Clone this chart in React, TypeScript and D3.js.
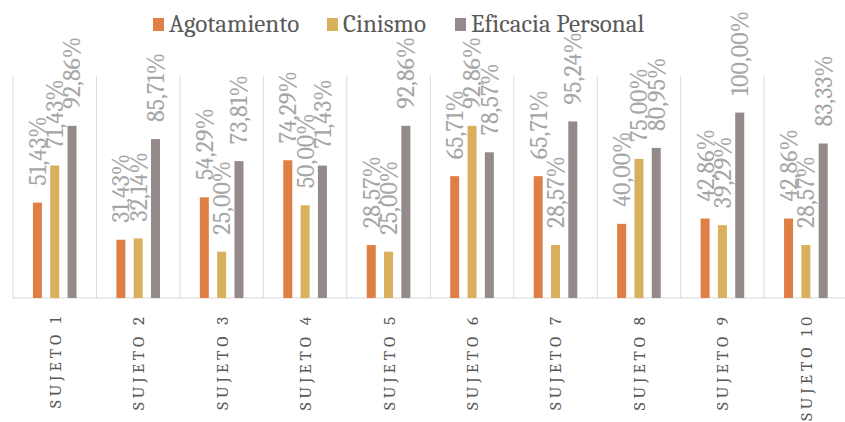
import React from "react";
import * as d3 from "d3";

const categories = ["SUJETO 1","SUJETO 2","SUJETO 3","SUJETO 4","SUJETO 5","SUJETO 6","SUJETO 7","SUJETO 8","SUJETO 9","SUJETO 10"];
const seriesNames = ["Agotamiento","Cinismo","Eficacia Personal"];
const agotamiento = [51.43,31.43,54.29,74.29,28.57,65.71,65.71,40.00,42.86,42.86];
const cinismo = [71.43,32.14,25.00,50.00,25.00,92.86,28.57,75.00,39.29,28.57];
const eficacia = [92.86,85.71,73.81,71.43,92.86,78.57,95.24,80.95,100.00,83.33];
const colors = ["#E07F45","#D9B15C","#948A89"];

const W = 845, H = 422;
const left = 13, right = 847.6, top = 75.5, base = 298;
const FONT = `"Cambria", "Liberation Serif", serif`;

export default function App() {
  const series = [agotamiento, cinismo, eficacia];
  const x0 = d3.scaleBand<string>().domain(categories).range([left, right]).padding(0);
  const x1 = d3.scaleBand<string>().domain(seriesNames).range([0, x0.bandwidth()]).paddingInner(0.48).paddingOuter(1.15);
  const y = d3.scaleLinear().domain([0, 120]).range([base, top]);
  const fmt = (v: number) => v.toFixed(2).replace(".", ",") + "%";
  const boundaries = categories.map((c) => x0(c)!).concat([right]);
  const legendItems = [
    { sq: 153, tx: 169 },
    { sq: 327, tx: 343 },
    { sq: 455, tx: 471 },
  ];
  return (
    <svg width={W} height={H} style={{ position: "absolute", left: 0, top: 0, background: "#fff" }}>
      {boundaries.map((b, i) => (
        <line key={"g" + i} x1={b} x2={b} y1={top} y2={base} stroke="#d9d9d9" strokeWidth={1} />
      ))}
      <line x1={left} x2={right} y1={base} y2={base} stroke="#d9d9d9" strokeWidth={1.2} />
      {series.map((vals, si) =>
        vals.map((v, ci) => {
          const bx = x0(categories[ci])! + x1(seriesNames[si])!;
          return (
            <rect key={si + "-" + ci} x={bx} y={y(v)} width={x1.bandwidth()} height={base - y(v)} fill={colors[si]} />
          );
        })
      )}
      {series.map((vals, si) =>
        vals.map((v, ci) => {
          const cx = x0(categories[ci])! + x1(seriesNames[si])! + x1.bandwidth() / 2;
          const ty = y(v) - 17;
          return (
            <text key={"l" + si + "-" + ci} transform={`translate(${cx},${ty}) rotate(-90)`} dy="0.35em" fontSize={24} fill="#a6a6a6" style={{ fontFamily: FONT }}>
              {fmt(v)}
            </text>
          );
        })
      )}
      {categories.map((c) => {
        const cx = x0(c)! + x0.bandwidth() / 2;
        return (
          <text key={c} transform={`translate(${cx},313) rotate(-90)`} textAnchor="end" dy="0.35em" fontSize={17} letterSpacing={4} fill="#595959" style={{ fontFamily: FONT }}>
            {c}
          </text>
        );
      })}
      {seriesNames.map((s, i) => (
        <g key={s}>
          <rect x={legendItems[i].sq} y={18} width={11} height={13} fill={colors[i]} />
          <text x={legendItems[i].tx} y={31.5} fontSize={25} fill="#595959" style={{ fontFamily: FONT }}>{s}</text>
        </g>
      ))}
    </svg>
  );
}
